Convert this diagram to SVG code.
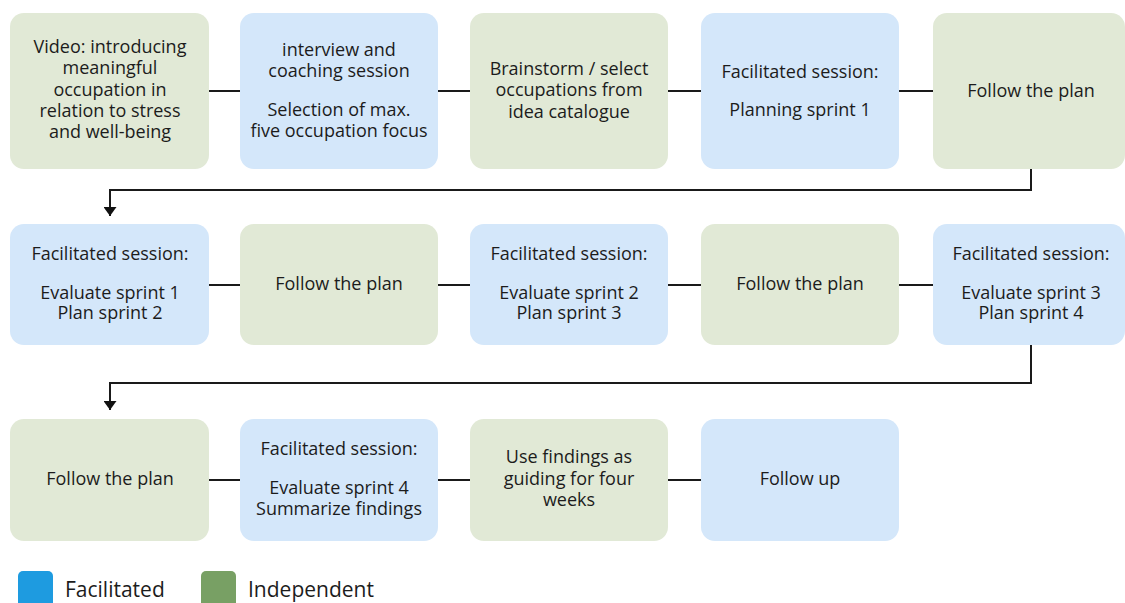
<svg xmlns="http://www.w3.org/2000/svg" width="1125" height="603" viewBox="0 0 1125 603">
  <defs>
    <style>
      .fac { fill: #d4e7fa; }
      .ind { fill: #e1e9d6; }
      .lbl { font-family: "Open Sans", "Noto Sans", sans-serif; font-size: 18px; fill: #1c1c1c; text-anchor: middle; }
      .leg { font-family: "Open Sans", "Noto Sans", sans-serif; font-size: 21px; fill: #1c1c1c; }
      .wire { stroke: #1a1a1a; stroke-width: 2; fill: none; }
    </style>
    <marker id="arrow" viewBox="0 0 9 13" refX="9" refY="6.5" markerWidth="9" markerHeight="13" markerUnits="userSpaceOnUse" orient="auto">
      <path d="M0,0 L9,6.5 L0,13 Z" fill="#111"/>
    </marker>
  </defs>
  <rect width="1125" height="603" fill="#fff"/>

  <!-- connectors -->
  <g id="connectors">
    <line class="wire" x1="209" y1="91" x2="240" y2="91"/>
    <line class="wire" x1="438" y1="91" x2="470" y2="91"/>
    <line class="wire" x1="668" y1="91" x2="701" y2="91"/>
    <line class="wire" x1="899" y1="91" x2="933" y2="91"/>
    <path class="wire" d="M1031,169 V190 H110 V216" marker-end="url(#arrow)"/>
    <line class="wire" x1="209" y1="285" x2="240" y2="285"/>
    <line class="wire" x1="438" y1="285" x2="470" y2="285"/>
    <line class="wire" x1="668" y1="285" x2="701" y2="285"/>
    <line class="wire" x1="899" y1="285" x2="933" y2="285"/>
    <path class="wire" d="M1031,345 V383 H110 V410" marker-end="url(#arrow)"/>
    <line class="wire" x1="209" y1="480" x2="240" y2="480"/>
    <line class="wire" x1="438" y1="480" x2="470" y2="480"/>
    <line class="wire" x1="668" y1="480" x2="701" y2="480"/>
  </g>

  <!-- row 1 -->
  <g id="n1">
    <rect class="ind" x="10" y="13" width="199" height="156" rx="14"/>
    <text class="lbl"><tspan x="110" y="53">Video: introducing</tspan><tspan x="110" y="74">meaningful</tspan><tspan x="110" y="96">occupation in</tspan><tspan x="110" y="117">relation to stress</tspan><tspan x="110" y="138">and well-being</tspan></text>
  </g>
  <g id="n2">
    <rect class="fac" x="240" y="13" width="198" height="156" rx="14"/>
    <text class="lbl"><tspan x="339" y="56">interview and</tspan><tspan x="339" y="77">coaching session</tspan><tspan x="339" y="116">Selection of max.</tspan><tspan x="339" y="137">five occupation focus</tspan></text>
  </g>
  <g id="n3">
    <rect class="ind" x="470" y="13" width="198" height="156" rx="14"/>
    <text class="lbl"><tspan x="569" y="75">Brainstorm / select</tspan><tspan x="569" y="96">occupations from</tspan><tspan x="569" y="118">idea catalogue</tspan></text>
  </g>
  <g id="n4">
    <rect class="fac" x="701" y="13" width="198" height="156" rx="14"/>
    <text class="lbl"><tspan x="800" y="78">Facilitated session:</tspan><tspan x="800" y="116">Planning sprint 1</tspan></text>
  </g>
  <g id="n5">
    <rect class="ind" x="933" y="13" width="192" height="156" rx="14"/>
    <text class="lbl"><tspan x="1031" y="97">Follow the plan</tspan></text>
  </g>

  <!-- row 2 -->
  <g id="n6">
    <rect class="fac" x="10" y="224" width="199" height="121" rx="14"/>
    <text class="lbl"><tspan x="110" y="260">Facilitated session:</tspan><tspan x="110" y="299">Evaluate sprint 1</tspan><tspan x="110" y="319">Plan sprint 2</tspan></text>
  </g>
  <g id="n7">
    <rect class="ind" x="240" y="224" width="198" height="121" rx="14"/>
    <text class="lbl"><tspan x="339" y="290">Follow the plan</tspan></text>
  </g>
  <g id="n8">
    <rect class="fac" x="470" y="224" width="198" height="121" rx="14"/>
    <text class="lbl"><tspan x="569" y="260">Facilitated session:</tspan><tspan x="569" y="299">Evaluate sprint 2</tspan><tspan x="569" y="319">Plan sprint 3</tspan></text>
  </g>
  <g id="n9">
    <rect class="ind" x="701" y="224" width="198" height="121" rx="14"/>
    <text class="lbl"><tspan x="800" y="290">Follow the plan</tspan></text>
  </g>
  <g id="n10">
    <rect class="fac" x="933" y="224" width="192" height="121" rx="14"/>
    <text class="lbl"><tspan x="1031" y="260">Facilitated session:</tspan><tspan x="1031" y="299">Evaluate sprint 3</tspan><tspan x="1031" y="319">Plan sprint 4</tspan></text>
  </g>

  <!-- row 3 -->
  <g id="n11">
    <rect class="ind" x="10" y="419" width="199" height="122" rx="14"/>
    <text class="lbl"><tspan x="110" y="485">Follow the plan</tspan></text>
  </g>
  <g id="n12">
    <rect class="fac" x="240" y="419" width="198" height="122" rx="14"/>
    <text class="lbl"><tspan x="339" y="455">Facilitated session:</tspan><tspan x="339" y="494">Evaluate sprint 4</tspan><tspan x="339" y="515">Summarize findings</tspan></text>
  </g>
  <g id="n13">
    <rect class="ind" x="470" y="419" width="198" height="122" rx="14"/>
    <text class="lbl"><tspan x="569" y="463">Use findings as</tspan><tspan x="569" y="485">guiding for four</tspan><tspan x="569" y="506">weeks</tspan></text>
  </g>
  <g id="n14">
    <rect class="fac" x="701" y="419" width="198" height="122" rx="14"/>
    <text class="lbl"><tspan x="800" y="485">Follow up</tspan></text>
  </g>

  <!-- legend -->
  <g id="legend">
    <rect x="18" y="571" width="35" height="40" rx="5" fill="#1e9be0"/>
    <text class="leg" x="65" y="597">Facilitated</text>
    <rect x="201" y="571" width="35" height="40" rx="5" fill="#78a064"/>
    <text class="leg" x="248" y="597">Independent</text>
  </g>
</svg>
